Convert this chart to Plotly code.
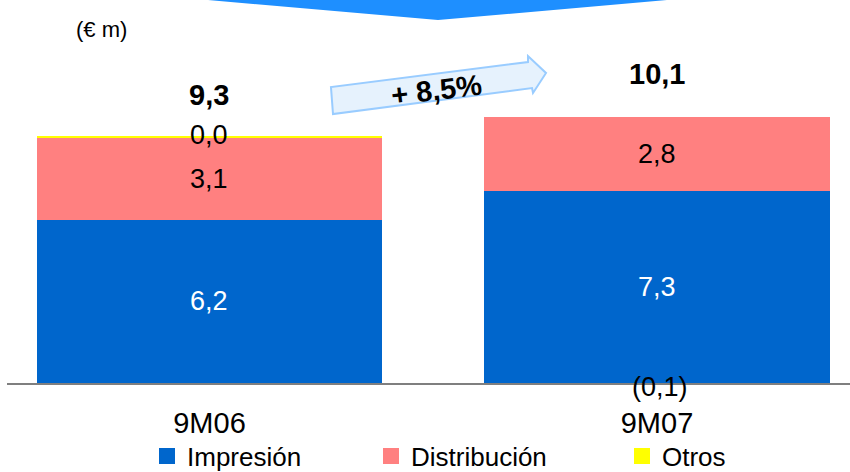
import plotly.graph_objects as go

# ---------------- data ----------------
categories = ["9M06", "9M07"]
impresion = [6.2, 7.3]
distribucion = [3.1, 2.8]
otros = [0.04, -0.1]
totals = [9.3, 10.1]
growth_pct = 8.5
unit_label = "(€ m)"

series_names = ["Impresión", "Distribución", "Otros"]
series_colors = ["#0066CC", "#FF8080", "#FFFF00"]
label_colors = ["white", "black", "black"]

FONT = "Liberation Sans, Arial, Helvetica, sans-serif"


def fmt(v):
    s = f"{abs(v):.1f}".replace(".", ",")
    return f"({s})" if v < 0 else s


# pixel -> paper helpers for decorative shapes (plot area: x 7..850, y 0..383)
W, H = 850, 472
ML, MR, MT, MB = 7, 0, 0, 89
PW, PH = W - ML - MR, H - MT - MB


def px(x):
    return (x - ML) / PW


def py(y):
    return (H - MB - y) / PH


fig = go.Figure()
series_vals = [impresion, distribucion, otros]
legend_ids = ["legend", "legend2", "legend3"]
for name, vals, color in zip(series_names, series_vals, series_colors):
    fig.add_trace(go.Bar(
        x=categories, y=vals, name=name,
        marker=dict(color=color, line=dict(width=0)),
        width=0.771, showlegend=False, hoverinfo="skip",
    ))
# legend entries (square swatches)
for name, color, lg in zip(series_names, series_colors, legend_ids):
    fig.add_trace(go.Scatter(
        x=[None], y=[None], name=name, mode="markers",
        marker=dict(symbol="square", size=16, color=color, line=dict(width=0)),
        legend=lg, showlegend=True, hoverinfo="skip",
    ))

annotations = []
# in-bar labels
for i, cat in enumerate(categories):
    base = 0.0
    for vals, lc in zip(series_vals[:2], label_colors[:2]):
        v = vals[i]
        annotations.append(dict(
            x=cat, y=base + v / 2, text=fmt(v), showarrow=False,
            font=dict(family=FONT, size=27, color=lc), xref="x", yref="y",
        ))
        base += v
    v = otros[i]
    if v >= 0:
        annotations.append(dict(x=cat, y=base + v, text=fmt(v), showarrow=False,
                                yshift=2, yanchor="middle",
                                font=dict(family=FONT, size=27, color="black")))
    else:
        annotations.append(dict(x=cat, y=0, text=fmt(v), showarrow=False,
                                yshift=-4, yanchor="middle", xshift=3,
                                font=dict(family=FONT, size=27, color="black")))
    # totals
    annotations.append(dict(
        x=cat, y=totals[i], text=f"<b>{fmt(totals[i])}</b>", showarrow=False,
        yshift=43, yanchor="middle",
        font=dict(family=FONT, size=29, color="black"),
    ))

# unit label
annotations.append(dict(
    x=px(74), y=py(29), xref="paper", yref="paper", xanchor="left", yanchor="middle",
    text=unit_label, showarrow=False, font=dict(family=FONT, size=22, color="black"),
))
# growth label on the arrow
annotations.append(dict(
    x=px(436), y=py(90), xref="paper", yref="paper", xanchor="center", yanchor="middle",
    text=f"<b>+ {fmt(growth_pct)}%</b>", showarrow=False, textangle=-7,
    font=dict(family=FONT, size=29, color="black"),
))


def path(points):
    return "M " + " L ".join(f"{px(x):.4f},{py(y):.4f}" for x, y in points) + " Z"


shapes = [
    # top chevron
    dict(type="path", xref="paper", yref="paper",
         path=path([(208, -20), (667, -20), (667, 0), (438, 20), (208, 0)]),
         fillcolor="#1E8FFF", line=dict(width=0), layer="above"),
    # growth arrow
    dict(type="path", xref="paper", yref="paper",
         path=path([(333, 114), (331, 87), (528, 62), (528, 56), (546, 73),
                    (533, 93), (532, 88)]),
         fillcolor="#E6F2FD", line=dict(color="#99CCFF", width=2), layer="below"),
]

fig.update_layout(
    width=W, height=H,
    margin=dict(l=ML, r=MR, t=MT, b=MB, pad=0, autoexpand=False),
    barmode="relative", bargap=0,
    showlegend=True,
    paper_bgcolor="white", plot_bgcolor="white",
    font=dict(family=FONT, color="black"),
    annotations=annotations, shapes=shapes,
    xaxis=dict(
        type="category", range=[-0.4525, 1.4313], showgrid=False, zeroline=False,
        showline=True, linecolor="#7F7F7F", linewidth=2, ticks="",
        tickfont=dict(family=FONT, size=29, color="black"), ticklabelstandoff=13,
        fixedrange=True, automargin=False,
    ),
    yaxis=dict(range=[0, 14.53], visible=False, fixedrange=True, automargin=False),
)

legend_x = [px(147), px(371), px(622)]
for lg, lx in zip(legend_ids, legend_x):
    fig.update_layout({lg: dict(
        orientation="h", x=lx, xanchor="left", y=py(456), yanchor="middle",
        xref="paper", yref="paper", itemsizing="trace",
        bgcolor="rgba(0,0,0,0)", borderwidth=0, itemwidth=30,
        font=dict(family=FONT, size=26, color="black"),
    )})

fig.write_html(
    "out.html",
    config={"displayModeBar": False},
    post_script="document.body.style.margin='0';document.body.style.overflow='hidden';",
)
